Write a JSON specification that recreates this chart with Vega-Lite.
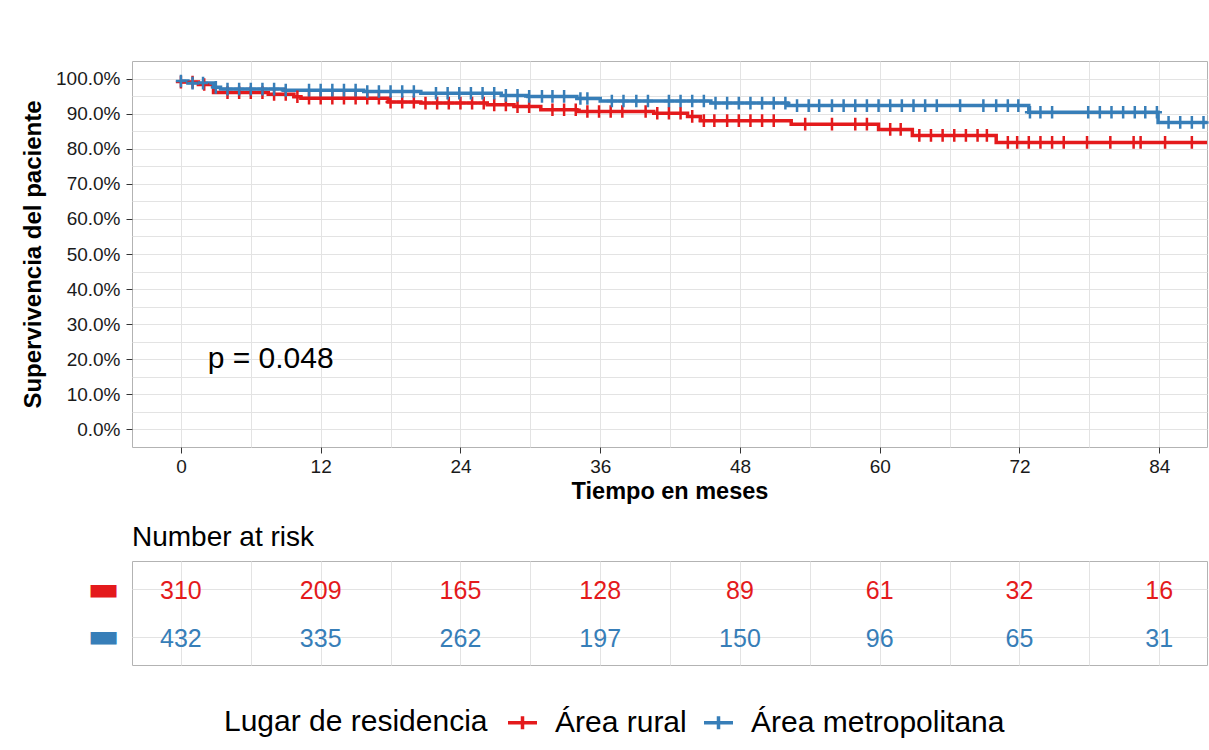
{
  "$schema": "https://vega.github.io/schema/vega-lite/v6.json",
  "padding": {"left": 21, "top": 60, "right": 0, "bottom": 0},
  "background": "white",
  "config": {
    "font": "Liberation Sans",
    "view": {"stroke": "#B3B3B3", "strokeWidth": 1},
    "axis": {"labelFont": "Liberation Sans", "labelColor": "#1A1A1A", "titleFont": "Liberation Sans", "titleColor": "#000000", "gridColor": "#E3E3E3", "gridWidth": 1, "tickColor": "#333333", "labelOverlap": false}
  },
  "datasets": {
    "steps": [
      {"g": "Área rural", "t": 0, "s": 99.0}, {"g": "Área rural", "t": 1.5, "s": 98.3}, {"g": "Área rural", "t": 2.8, "s": 96.0}, {"g": "Área rural", "t": 7.5, "s": 95.5}, {"g": "Área rural", "t": 9.7, "s": 94.8}, {"g": "Área rural", "t": 10.3, "s": 94.4}, {"g": "Área rural", "t": 17.8, "s": 93.3}, {"g": "Área rural", "t": 20.6, "s": 93.0}, {"g": "Área rural", "t": 26.3, "s": 92.5}, {"g": "Área rural", "t": 28.6, "s": 92.0}, {"g": "Área rural", "t": 30.9, "s": 91.1}, {"g": "Área rural", "t": 34.0, "s": 90.6}, {"g": "Área rural", "t": 40.6, "s": 90.1}, {"g": "Área rural", "t": 43.5, "s": 89.2}, {"g": "Área rural", "t": 44.6, "s": 88.0}, {"g": "Área rural", "t": 52.4, "s": 87.0}, {"g": "Área rural", "t": 59.9, "s": 85.5}, {"g": "Área rural", "t": 62.8, "s": 83.8}, {"g": "Área rural", "t": 70.0, "s": 81.8}, {"g": "Área rural", "t": 88.1, "s": 81.8},
      {"g": "Área metropolitana", "t": 0, "s": 99.3}, {"g": "Área metropolitana", "t": 0.6, "s": 98.7}, {"g": "Área metropolitana", "t": 2.8, "s": 97.5}, {"g": "Área metropolitana", "t": 3.4, "s": 97.0}, {"g": "Área metropolitana", "t": 8.8, "s": 96.7}, {"g": "Área metropolitana", "t": 15.7, "s": 96.3}, {"g": "Área metropolitana", "t": 20.6, "s": 95.8}, {"g": "Área metropolitana", "t": 27.5, "s": 95.2}, {"g": "Área metropolitana", "t": 29.8, "s": 94.9}, {"g": "Área metropolitana", "t": 34.0, "s": 94.3}, {"g": "Área metropolitana", "t": 36.0, "s": 93.6}, {"g": "Área metropolitana", "t": 45.5, "s": 93.0}, {"g": "Área metropolitana", "t": 52.1, "s": 92.3}, {"g": "Área metropolitana", "t": 72.8, "s": 90.4}, {"g": "Área metropolitana", "t": 83.9, "s": 87.5}, {"g": "Área metropolitana", "t": 88.1, "s": 87.5}
    ],
    "censor": [
      {"g": "Área rural", "t": 0, "s": 99.0}, {"g": "Área rural", "t": 1, "s": 99.0}, {"g": "Área rural", "t": 2, "s": 98.3}, {"g": "Área rural", "t": 4, "s": 96.0}, {"g": "Área rural", "t": 5, "s": 96.0}, {"g": "Área rural", "t": 6, "s": 96.0}, {"g": "Área rural", "t": 7, "s": 96.0}, {"g": "Área rural", "t": 8, "s": 95.5}, {"g": "Área rural", "t": 9, "s": 95.5}, {"g": "Área rural", "t": 10, "s": 94.8}, {"g": "Área rural", "t": 11, "s": 94.4}, {"g": "Área rural", "t": 12, "s": 94.4}, {"g": "Área rural", "t": 13, "s": 94.4}, {"g": "Área rural", "t": 14, "s": 94.4}, {"g": "Área rural", "t": 15, "s": 94.4}, {"g": "Área rural", "t": 16, "s": 94.4}, {"g": "Área rural", "t": 17, "s": 94.4}, {"g": "Área rural", "t": 18, "s": 93.3}, {"g": "Área rural", "t": 19, "s": 93.3}, {"g": "Área rural", "t": 20, "s": 93.3}, {"g": "Área rural", "t": 21, "s": 93.0}, {"g": "Área rural", "t": 22, "s": 93.0}, {"g": "Área rural", "t": 23, "s": 93.0}, {"g": "Área rural", "t": 24, "s": 93.0}, {"g": "Área rural", "t": 25, "s": 93.0}, {"g": "Área rural", "t": 26, "s": 93.0}, {"g": "Área rural", "t": 26.9, "s": 92.5}, {"g": "Área rural", "t": 27.9, "s": 92.5}, {"g": "Área rural", "t": 28.9, "s": 92.0}, {"g": "Área rural", "t": 29.9, "s": 92.0}, {"g": "Área rural", "t": 31.9, "s": 91.1}, {"g": "Área rural", "t": 32.9, "s": 91.1}, {"g": "Área rural", "t": 33.9, "s": 91.1}, {"g": "Área rural", "t": 34.9, "s": 90.6}, {"g": "Área rural", "t": 35.9, "s": 90.6}, {"g": "Área rural", "t": 36.9, "s": 90.6}, {"g": "Área rural", "t": 37.9, "s": 90.6}, {"g": "Área rural", "t": 39.9, "s": 90.6}, {"g": "Área rural", "t": 40.9, "s": 90.1}, {"g": "Área rural", "t": 41.9, "s": 90.1}, {"g": "Área rural", "t": 42.9, "s": 90.1}, {"g": "Área rural", "t": 43.9, "s": 89.2}, {"g": "Área rural", "t": 44.9, "s": 88.0}, {"g": "Área rural", "t": 45.8, "s": 88.0}, {"g": "Área rural", "t": 46.9, "s": 88.0}, {"g": "Área rural", "t": 47.9, "s": 88.0}, {"g": "Área rural", "t": 48.9, "s": 88.0}, {"g": "Área rural", "t": 49.9, "s": 88.0}, {"g": "Área rural", "t": 50.9, "s": 88.0}, {"g": "Área rural", "t": 53.6, "s": 87.0}, {"g": "Área rural", "t": 55.9, "s": 87.0}, {"g": "Área rural", "t": 57.9, "s": 87.0}, {"g": "Área rural", "t": 58.9, "s": 87.0}, {"g": "Área rural", "t": 60.9, "s": 85.5}, {"g": "Área rural", "t": 61.8, "s": 85.5}, {"g": "Área rural", "t": 63.4, "s": 83.8}, {"g": "Área rural", "t": 64.4, "s": 83.8}, {"g": "Área rural", "t": 65.4, "s": 83.8}, {"g": "Área rural", "t": 66.4, "s": 83.8}, {"g": "Área rural", "t": 67.4, "s": 83.8}, {"g": "Área rural", "t": 68.4, "s": 83.8}, {"g": "Área rural", "t": 69.2, "s": 83.8}, {"g": "Área rural", "t": 71.0, "s": 81.8}, {"g": "Área rural", "t": 71.8, "s": 81.8}, {"g": "Área rural", "t": 72.8, "s": 81.8}, {"g": "Área rural", "t": 73.8, "s": 81.8}, {"g": "Área rural", "t": 74.8, "s": 81.8}, {"g": "Área rural", "t": 75.8, "s": 81.8}, {"g": "Área rural", "t": 77.8, "s": 81.8}, {"g": "Área rural", "t": 79.8, "s": 81.8}, {"g": "Área rural", "t": 81.8, "s": 81.8}, {"g": "Área rural", "t": 82.4, "s": 81.8}, {"g": "Área rural", "t": 84.5, "s": 81.8}, {"g": "Área rural", "t": 86.8, "s": 81.8},
      {"g": "Área metropolitana", "t": 0, "s": 99.3}, {"g": "Área metropolitana", "t": 1, "s": 98.7}, {"g": "Área metropolitana", "t": 1.9, "s": 98.7}, {"g": "Área metropolitana", "t": 3.0, "s": 97.5}, {"g": "Área metropolitana", "t": 4, "s": 97.0}, {"g": "Área metropolitana", "t": 5, "s": 97.0}, {"g": "Área metropolitana", "t": 6, "s": 97.0}, {"g": "Área metropolitana", "t": 7, "s": 97.0}, {"g": "Área metropolitana", "t": 8, "s": 97.0}, {"g": "Área metropolitana", "t": 9, "s": 96.7}, {"g": "Área metropolitana", "t": 11, "s": 96.7}, {"g": "Área metropolitana", "t": 12, "s": 96.7}, {"g": "Área metropolitana", "t": 13, "s": 96.7}, {"g": "Área metropolitana", "t": 14, "s": 96.7}, {"g": "Área metropolitana", "t": 15, "s": 96.7}, {"g": "Área metropolitana", "t": 16, "s": 96.3}, {"g": "Área metropolitana", "t": 17, "s": 96.3}, {"g": "Área metropolitana", "t": 18, "s": 96.3}, {"g": "Área metropolitana", "t": 19, "s": 96.3}, {"g": "Área metropolitana", "t": 20, "s": 96.3}, {"g": "Área metropolitana", "t": 21.9, "s": 95.8}, {"g": "Área metropolitana", "t": 22.9, "s": 95.8}, {"g": "Área metropolitana", "t": 23.9, "s": 95.8}, {"g": "Área metropolitana", "t": 24.9, "s": 95.8}, {"g": "Área metropolitana", "t": 25.9, "s": 95.8}, {"g": "Área metropolitana", "t": 26.9, "s": 95.8}, {"g": "Área metropolitana", "t": 27.9, "s": 95.2}, {"g": "Área metropolitana", "t": 28.9, "s": 95.2}, {"g": "Área metropolitana", "t": 29.9, "s": 94.9}, {"g": "Área metropolitana", "t": 31.0, "s": 94.9}, {"g": "Área metropolitana", "t": 31.9, "s": 94.9}, {"g": "Área metropolitana", "t": 32.9, "s": 94.9}, {"g": "Área metropolitana", "t": 34.3, "s": 94.3}, {"g": "Área metropolitana", "t": 34.9, "s": 94.3}, {"g": "Área metropolitana", "t": 37.0, "s": 93.6}, {"g": "Área metropolitana", "t": 38.0, "s": 93.6}, {"g": "Área metropolitana", "t": 39.1, "s": 93.6}, {"g": "Área metropolitana", "t": 40.1, "s": 93.6}, {"g": "Área metropolitana", "t": 41.9, "s": 93.6}, {"g": "Área metropolitana", "t": 42.9, "s": 93.6}, {"g": "Área metropolitana", "t": 43.9, "s": 93.6}, {"g": "Área metropolitana", "t": 44.9, "s": 93.6}, {"g": "Área metropolitana", "t": 45.9, "s": 93.0}, {"g": "Área metropolitana", "t": 46.9, "s": 93.0}, {"g": "Área metropolitana", "t": 47.9, "s": 93.0}, {"g": "Área metropolitana", "t": 48.9, "s": 93.0}, {"g": "Área metropolitana", "t": 49.9, "s": 93.0}, {"g": "Área metropolitana", "t": 50.9, "s": 93.0}, {"g": "Área metropolitana", "t": 51.9, "s": 93.0}, {"g": "Área metropolitana", "t": 52.9, "s": 92.3}, {"g": "Área metropolitana", "t": 53.9, "s": 92.3}, {"g": "Área metropolitana", "t": 54.8, "s": 92.3}, {"g": "Área metropolitana", "t": 55.9, "s": 92.3}, {"g": "Área metropolitana", "t": 56.9, "s": 92.3}, {"g": "Área metropolitana", "t": 57.9, "s": 92.3}, {"g": "Área metropolitana", "t": 58.9, "s": 92.3}, {"g": "Área metropolitana", "t": 59.9, "s": 92.3}, {"g": "Área metropolitana", "t": 60.9, "s": 92.3}, {"g": "Área metropolitana", "t": 61.9, "s": 92.3}, {"g": "Área metropolitana", "t": 62.9, "s": 92.3}, {"g": "Área metropolitana", "t": 63.9, "s": 92.3}, {"g": "Área metropolitana", "t": 64.9, "s": 92.3}, {"g": "Área metropolitana", "t": 66.9, "s": 92.3}, {"g": "Área metropolitana", "t": 68.9, "s": 92.3}, {"g": "Área metropolitana", "t": 70.0, "s": 92.3}, {"g": "Área metropolitana", "t": 71.0, "s": 92.3}, {"g": "Área metropolitana", "t": 71.9, "s": 92.3}, {"g": "Área metropolitana", "t": 72.9, "s": 90.4}, {"g": "Área metropolitana", "t": 73.8, "s": 90.4}, {"g": "Área metropolitana", "t": 74.8, "s": 90.4}, {"g": "Área metropolitana", "t": 77.9, "s": 90.4}, {"g": "Área metropolitana", "t": 78.9, "s": 90.4}, {"g": "Área metropolitana", "t": 79.9, "s": 90.4}, {"g": "Área metropolitana", "t": 80.9, "s": 90.4}, {"g": "Área metropolitana", "t": 81.9, "s": 90.4}, {"g": "Área metropolitana", "t": 82.8, "s": 90.4}, {"g": "Área metropolitana", "t": 83.8, "s": 90.4}, {"g": "Área metropolitana", "t": 84.8, "s": 87.5}, {"g": "Área metropolitana", "t": 85.8, "s": 87.5}, {"g": "Área metropolitana", "t": 86.8, "s": 87.5}, {"g": "Área metropolitana", "t": 87.8, "s": 87.5}
    ],
    "risk": [
      {"g": "Área rural", "t": 0, "n": 310}, {"g": "Área rural", "t": 12, "n": 209}, {"g": "Área rural", "t": 24, "n": 165}, {"g": "Área rural", "t": 36, "n": 128}, {"g": "Área rural", "t": 48, "n": 89}, {"g": "Área rural", "t": 60, "n": 61}, {"g": "Área rural", "t": 72, "n": 32}, {"g": "Área rural", "t": 84, "n": 16},
      {"g": "Área metropolitana", "t": 0, "n": 432}, {"g": "Área metropolitana", "t": 12, "n": 335}, {"g": "Área metropolitana", "t": 24, "n": 262}, {"g": "Área metropolitana", "t": 36, "n": 197}, {"g": "Área metropolitana", "t": 48, "n": 150}, {"g": "Área metropolitana", "t": 60, "n": 96}, {"g": "Área metropolitana", "t": 72, "n": 65}, {"g": "Área metropolitana", "t": 84, "n": 31}
    ]
  },
  "resolve": {"scale": {"color": "shared"}, "legend": {"color": "shared"}},
  "spacing": 20,
  "vconcat": [
    {
      "width": 1075,
      "height": 386,
      "resolve": {"axis": {"y": "independent"}},
      "layer": [
        {
          "data": {"name": "steps"},
          "mark": {"type": "line", "interpolate": "step-after", "strokeWidth": 3.5, "clip": true},
          "encoding": {
            "x": {"field": "t", "type": "quantitative", "scale": {"domain": [-4.2, 88.1], "nice": false, "zero": false},
              "axis": {"title": "Tiempo en meses", "titleFontSize": 23.5, "titleFontWeight": "bold", "titlePadding": 3,
                "values": [0, 6, 12, 18, 24, 30, 36, 42, 48, 54, 60, 66, 72, 78, 84],
                "labelExpr": "datum.value % 12 == 0 ? datum.label : ''", "labelFontSize": 19, "labelPadding": 4, "labelOverlap": false,
                "domain": false, "tickSize": 6,
                "tickOpacity": {"condition": {"test": "datum.value % 12 == 0", "value": 1}, "value": 0}}},
            "y": {"field": "s", "type": "quantitative", "scale": {"domain": [-5, 105], "nice": false, "zero": false},
              "axis": {"title": "Supervivencia del paciente", "titleFontSize": 24, "titleFontWeight": "bold", "titlePadding": 10, "orient": "left",
                "values": [0, 10, 20, 30, 40, 50, 60, 70, 80, 90, 100],
                "labelExpr": "format(datum.value, '.1f') + '%'", "labelFontSize": 19, "labelPadding": 6, "labelOverlap": false,
                "domain": false, "tickSize": 6}},
            "color": {"field": "g", "type": "nominal",
              "scale": {"domain": ["Área rural", "Área metropolitana"], "range": ["#E41A1C", "#377EB8"]},
              "legend": {"title": "Lugar de residencia", "orient": "none", "legendX": 92, "legendY": 645, "direction": "horizontal",
                "titleOrient": "left", "titleFontSize": 30, "titleFontWeight": "normal", "titleFont": "Liberation Sans", "titleColor": "#000000", "titlePadding": 18, "titleLimit": 1000,
                "labelFontSize": 30, "labelFont": "Liberation Sans", "labelColor": "#000000", "labelOffset": 16, "labelLimit": 1000, "columnPadding": 10,
                "symbolType": "M-1,0H1M0,-0.45V0.45", "symbolSize": 841, "symbolStrokeWidth": 3.5, "symbolFillColor": "transparent"}}
          }
        },
        {
          "data": {"name": "censor"},
          "mark": {"type": "point", "shape": "M-0.8,0H0.8M0,-1V1", "filled": false, "strokeWidth": 2.5, "size": 160, "opacity": 1},
          "encoding": {
            "x": {"field": "t", "type": "quantitative"},
            "y": {"field": "s", "type": "quantitative",
              "axis": {"orient": "left", "title": null, "values": [5, 15, 25, 35, 45, 55, 65, 75, 85, 95], "labels": false, "ticks": false, "domain": false, "grid": true}},
            "color": {"field": "g", "type": "nominal"}
          }
        },
        {
          "data": {"values": [{"label": "p = 0.048"}]},
          "mark": {"type": "text", "fontSize": 30, "font": "Liberation Sans", "align": "left", "baseline": "middle", "color": "#000000"},
          "encoding": {
            "x": {"datum": 2.3, "type": "quantitative"},
            "y": {"datum": 20.2, "type": "quantitative", "axis": null},
            "text": {"field": "label"}
          }
        }
      ]
    },
    {
      "width": 1075,
      "height": 104,
      "title": {"text": "Number at risk", "anchor": "start", "frame": "group", "fontSize": 28, "fontWeight": "normal", "font": "Liberation Sans", "color": "#000000", "offset": 9},
      "data": {"name": "risk"},
      "mark": {"type": "text", "fontSize": 25, "font": "Liberation Sans", "baseline": "middle", "dy": 2},
      "encoding": {
        "x": {"field": "t", "type": "quantitative", "scale": {"domain": [-4.2, 88.1], "nice": false, "zero": false},
          "axis": {"title": null, "values": [0, 6, 12, 18, 24, 30, 36, 42, 48, 54, 60, 66, 72, 78, 84], "labels": false, "ticks": false, "domain": false, "grid": true}},
        "y": {"field": "g", "type": "nominal", "scale": {"type": "point", "domain": ["Área rural", "Área metropolitana"], "padding": 0.6},
          "axis": {"title": null, "domain": false, "ticks": false, "grid": true, "labelExpr": "'▬'", "labelFont": "DejaVu Sans", "labelFontSize": 34, "labelPadding": 13,
            "labelColor": {"condition": {"test": "datum.value == 'Área rural'", "value": "#E41A1C"}, "value": "#377EB8"}}},
        "color": {"field": "g", "type": "nominal"},
        "text": {"field": "n", "type": "quantitative"}
      }
    }
  ]
}
